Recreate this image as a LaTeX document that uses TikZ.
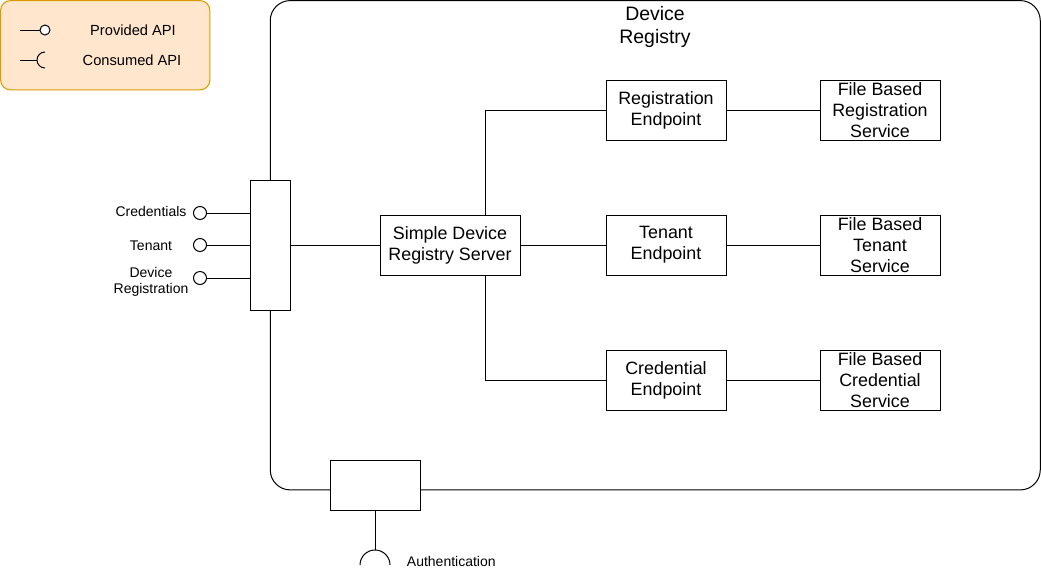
\documentclass[tikz,border=0pt]{standalone}
\usepackage{fontspec}
\setmainfont{Liberation Sans}
\usepackage{tikz}
\usetikzlibrary{positioning,calc}
\tikzset{
  every picture/.append style={line width=0.75pt},
}
\tikzset{
  comp/.style={draw, fill=white, align=center, inner sep=1pt, minimum width=90pt, minimum height=45pt, font=\fontsize{13.4}{15.8}\selectfont},
  port/.style={draw, fill=white, inner sep=0pt},
  wire/.style={draw, line width=0.75pt}
}

\begin{document}
\begin{tikzpicture}[
  x=0.75pt, y=-0.75pt,
  lolli/.style={circle, draw, fill=white, inner sep=0pt, minimum size=9.75pt},
  apilabel/.style={align=center, font=\fontsize{10.5}{12}\selectfont},
  title/.style={align=center, font=\fontsize{14.6}{17.3}\selectfont}
]

% --- Colours ---
\definecolor{legendfill}{RGB}{255,230,204}
\definecolor{legenddraw}{RGB}{215,155,0}

\useasboundingbox (0,0) rectangle (1041,586);

% --- Legend ---
\node[draw=legenddraw, fill=legendfill, rounded corners=7.5pt, minimum width=157pt, minimum height=67pt] (legend) at (105.25,45.25) {};
\coordinate (provA) at (20,30);
\node[lolli, minimum size=7.5pt] (provO) at (45,30) {};
\draw[wire] (provA) -- (provO);
\node[apilabel, font=\fontsize{11}{12}\selectfont] (provtxt) at (133,30) {Provided API};
\coordinate (consA) at (20,60);
\coordinate (consB) at (37,60);
\draw[wire] (consA) -- (consB);
\draw[wire] (45,68) arc[start angle=90, end angle=270, radius=8];
\node[apilabel, font=\fontsize{11}{12}\selectfont] (constxt) at (132,60) {Consumed API};

% --- Device Registry container ---
\node[draw, rounded corners=15pt, minimum width=577.5pt, minimum height=367pt] (registry) at (655.25,245.25) {};
\node[title] (regtitle) at (655,26.5) {Device\\Registry};

% --- Ports on the container edge ---
\node[port, minimum width=30pt, minimum height=97.5pt] (lport) at (270,245) {};
\node[port, minimum width=67.5pt, minimum height=37.5pt] (bport) at (375,485) {};

% --- Provided APIs (left) ---
\foreach \y/\nm in {213/cred,245/ten,278/reg}{
  \node[lolli] (p\nm) at (200,\y) {};
  \draw[wire] (p\nm) -- (p\nm -| lport.west);
}
\node[apilabel] (lcred) at (151,211) {Credentials};
\node[apilabel] (lten) at (151,245.5) {Tenant};
\node[apilabel] (lreg) at (151,281.5) {Device\\Registration};

% --- Consumed API (bottom) ---
\coordinate (authtop) at (375,550);
\draw[wire] (bport) -- (authtop);
\draw[wire] (360,565) arc[start angle=180, end angle=360, radius=15];
\node[apilabel, anchor=west] (lauth) at (402,561) {Authentication};

% --- Components ---
\node[comp, minimum width=105pt] (server) at (450,245) {Simple Device\\Registry Server};
\node[comp] (regep) at (666,110) {Registration\\Endpoint};
\node[comp] (tenep) at (666,245) {Tenant\\Endpoint};
\node[comp] (credep) at (666,380) {Credential\\Endpoint};
\node[comp] (regsvc) at (880,110) {File Based\\Registration\\Service};
\node[comp] (tensvc) at (880,245) {File Based\\Tenant\\Service};
\node[comp] (credsvc) at (880,380) {File Based\\Credential\\Service};

% --- Connectors ---
\draw[wire] (lport) -- (server);
\draw[wire] ([xshift=26.25pt]server.north) |- (regep);
\draw[wire] (server) -- (tenep);
\draw[wire] ([xshift=26.25pt]server.south) |- (credep);
\foreach \nm in {reg,ten,cred}
  \draw[wire] (\nm ep) -- (\nm svc);

\end{tikzpicture}
\end{document}
